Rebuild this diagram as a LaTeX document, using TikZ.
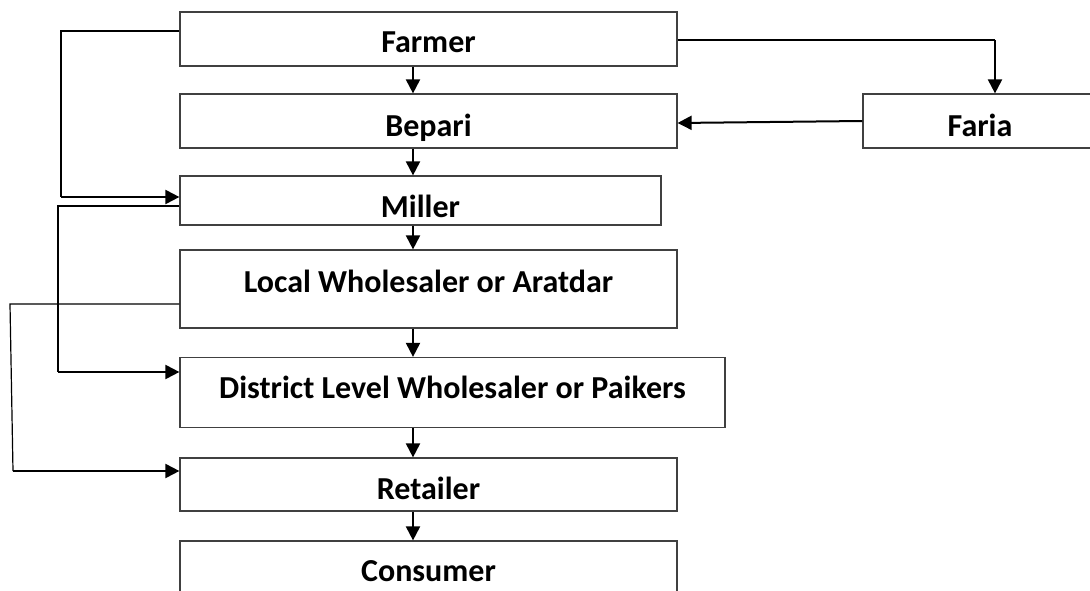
\documentclass[tikz,border=0pt]{standalone}
\usepackage{fontspec}
\setmainfont{Carlito}
\usetikzlibrary{arrows.meta}
\definecolor{boxline}{HTML}{404040}
\tikzset{
  box/.style={draw=boxline, line width=1.2pt, rectangle, inner sep=0pt,
    font=\fontsize{32}{38}\selectfont\bfseries, text depth=0pt},
  tb/.style={text height=#1},
  conn/.style={draw=black, line width=1.2pt},
  arr/.style={draw=black, line width=2pt, -{Triangle[length=14pt,width=14pt]}},
}
\begin{document}
\begin{tikzpicture}[x=1pt,y=-1pt]
\useasboundingbox (0,0) rectangle (1090,591);
\node[box, tb=28pt, minimum width=497pt, minimum height=54pt] (farmer) at (428.5,39) {Farmer};
\node[box, tb=31pt, minimum width=497pt, minimum height=54pt] (bepari) at (428.5,121) {Bepari};
\node[box, tb=31pt, minimum width=234pt, minimum height=54pt] (faria) at (980,121) {Faria};
\node[box, tb=34pt, minimum width=481pt, minimum height=49pt] (miller) at (420.5,200.5) {Miller};
\node[box, tb=6pt, minimum width=497pt, minimum height=78pt] (local) at (428.5,289) {Local Wholesaler or Aratdar};
\node[box, tb=12pt, minimum width=545pt, minimum height=70pt] (district) at (452.5,392.5) {District Level Wholesaler or Paikers};
\node[box, tb=29pt, minimum width=497pt, minimum height=53pt] (retailer) at (428.5,484.5) {Retailer};
\node[box, tb=11pt, minimum width=497pt, minimum height=69pt] (consumer) at (428.5,575.5) {Consumer};
% vertical arrows
\coordinate (ax) at (413,0);
\draw[arr] (farmer.south -| ax) -- (bepari.north -| ax);
\draw[arr] (bepari.south -| ax) -- (miller.north -| ax);
\draw[arr] (miller.south -| ax) -- (local.north -| ax);
\draw[arr] (local.south -| ax) -- (district.north -| ax);
\draw[arr] (district.south -| ax) -- (retailer.north -| ax);
\draw[arr] (retailer.south -| ax) -- (consumer.north -| ax);
% Farmer -> Miller
\coordinate (c1) at (61,197);
\draw[conn] ([yshift=8pt]farmer.west) -| (c1);
\draw[arr] (c1) -- (c1 -| miller.west);
% Miller -> District
\coordinate (c2) at (58,372);
\draw[conn] ([yshift=-5.5pt]miller.west) -| (c2);
\draw[arr] (c2) -- (c2 -| district.west);
% Local -> Retailer
\coordinate (c3a) at (10,304);
\coordinate (c3) at (13,471);
\draw[conn] (local.west |- c3a) -- (c3a) -- (c3);
\draw[arr] (c3) -- (c3 -| retailer.west);
% Farmer -> Faria
\coordinate (c4) at (995,40);
\draw[conn] (farmer.east |- c4) -- (c4);
\draw[arr] (c4) -- (c4 |- faria.north);
% Faria -> Bepari
\draw[arr] (faria.west) -- ([yshift=-2pt]bepari.east);
\end{tikzpicture}
\end{document}
